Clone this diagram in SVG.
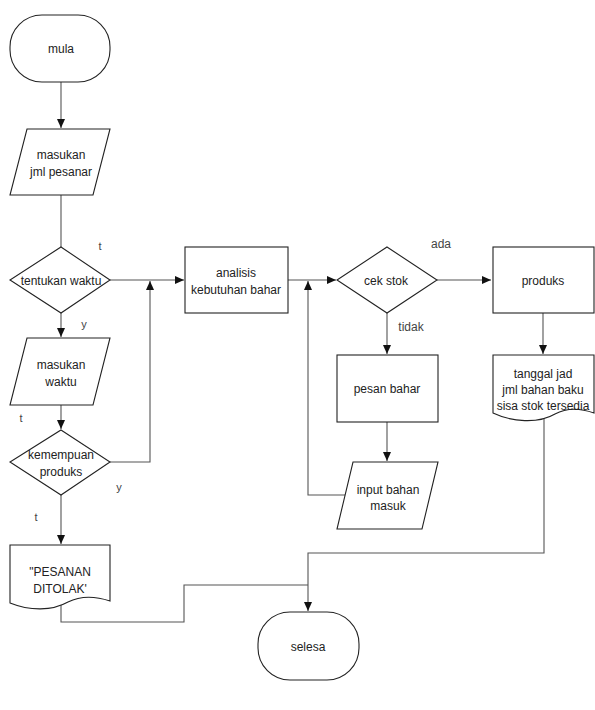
<svg xmlns="http://www.w3.org/2000/svg" width="595" height="710" viewBox="0 0 595 710">
<defs>
<marker id="ah" markerWidth="10" markerHeight="10" refX="9" refY="5" orient="auto" markerUnits="userSpaceOnUse">
<path d="M0,1 L9,5 L0,9 Z" fill="#111"/>
</marker>
<style>
.s{fill:#fff;stroke:#222;stroke-width:1.1}
.t{font-family:"Liberation Sans",Arial,sans-serif;font-size:12px;fill:#222;text-anchor:middle}
.l{font-family:"Liberation Sans",Arial,sans-serif;font-size:11px;fill:#444;text-anchor:middle}
.c{fill:none;stroke:#555;stroke-width:1.1}
</style>
</defs>
<rect width="595" height="710" fill="#fff"/>
<g id="connectors">
<path class="c" d="M61,82 V128" marker-end="url(#ah)"/>
<path class="c" d="M61,195 V247"/>
<path class="c" d="M110,280 H184" marker-end="url(#ah)"/>
<path class="c" d="M110,462 H150 V281" marker-end="url(#ah)"/>
<path class="c" d="M61,313 V337" marker-end="url(#ah)"/>
<path class="c" d="M61,405 V429" marker-end="url(#ah)"/>
<path class="c" d="M61,495 V544" marker-end="url(#ah)"/>
<path class="c" d="M288,280 H336" marker-end="url(#ah)"/>
<path class="c" d="M345,495 H308 V281" marker-end="url(#ah)"/>
<path class="c" d="M437,280 H491" marker-end="url(#ah)"/>
<path class="c" d="M543,313 V354" marker-end="url(#ah)"/>
<path class="c" d="M387,313 V354" marker-end="url(#ah)"/>
<path class="c" d="M387,422 V461" marker-end="url(#ah)"/>
<path class="c" d="M544,415 V553 H308 V611" marker-end="url(#ah)"/>
<path class="c" d="M61,605 V622 H184 V585 H308"/>
</g>
<g id="mula">
<rect class="s" x="10" y="15" width="100" height="67" rx="32" ry="32"/>
<text class="t" x="61" y="53">mula</text>
</g>
<g id="masukan-jml">
<polygon class="s" points="27,129 110,129 93,195 10,195"/>
<text class="t" x="61" y="159">masukan</text>
<text class="t" x="61" y="176">jml pesanar</text>
</g>
<g id="tentukan-waktu">
<polygon class="s" points="61,247 110,280 61,313 10,280"/>
<text class="t" x="61" y="285">tentukan waktu</text>
</g>
<g id="masukan-waktu">
<polygon class="s" points="27,338 110,338 93,405 10,405"/>
<text class="t" x="61" y="369">masukan</text>
<text class="t" x="61" y="386">waktu</text>
</g>
<g id="kemampuan">
<polygon class="s" points="61,430 110,462 61,495 10,462"/>
<text class="t" x="61" y="459">kemempuan</text>
<text class="t" x="61" y="476">produks</text>
</g>
<g id="ditolak">
<path class="s" d="M10,545 H110 V601 C95,596 80,596 68,602 C52,611 30,611 10,603 Z"/>
<text class="t" x="60" y="576">"PESANAN</text>
<text class="t" x="60" y="593">DITOLAK'</text>
</g>
<g id="analisis">
<rect class="s" x="185" y="247" width="103" height="66"/>
<text class="t" x="236" y="277">analisis</text>
<text class="t" x="236" y="294">kebutuhan bahar</text>
</g>
<g id="cek-stok">
<polygon class="s" points="387,247 437,280 387,313 337,280"/>
<text class="t" x="386" y="285">cek stok</text>
</g>
<g id="produksi">
<rect class="s" x="493" y="247" width="101" height="66"/>
<text class="t" x="543" y="285">produks</text>
</g>
<g id="tanggal">
<path class="s" d="M493,355 H594 V413 C580,408 566,408 555,414 C538,424 512,422 493,413 Z"/>
<text class="t" x="543" y="378">tanggal jad</text>
<text class="t" x="543" y="394">jml bahan baku</text>
<text class="t" x="543" y="410">sisa stok tersedia</text>
</g>
<g id="pesan-bahan">
<rect class="s" x="337" y="355" width="101" height="67"/>
<text class="t" x="387" y="393">pesan bahar</text>
</g>
<g id="input-bahan">
<polygon class="s" points="353,462 438,462 422,529 337,529"/>
<text class="t" x="388" y="494">input bahan</text>
<text class="t" x="388" y="510">masuk</text>
</g>
<g id="selesa">
<rect class="s" x="258" y="612" width="101" height="68" rx="32" ry="32"/>
<text class="t" x="308" y="651">selesa</text>
</g>
<g id="labels">
<text class="l" x="100" y="250">t</text>
<text class="l" x="84" y="328">y</text>
<text class="l" x="21" y="422">t</text>
<text class="l" x="119" y="491">y</text>
<text class="l" x="36" y="521">t</text>
<text class="l" x="441" y="248" style="font-size:12px">ada</text>
<text class="l" x="411" y="331" style="font-size:12px">tidak</text>
</g>
</svg>
